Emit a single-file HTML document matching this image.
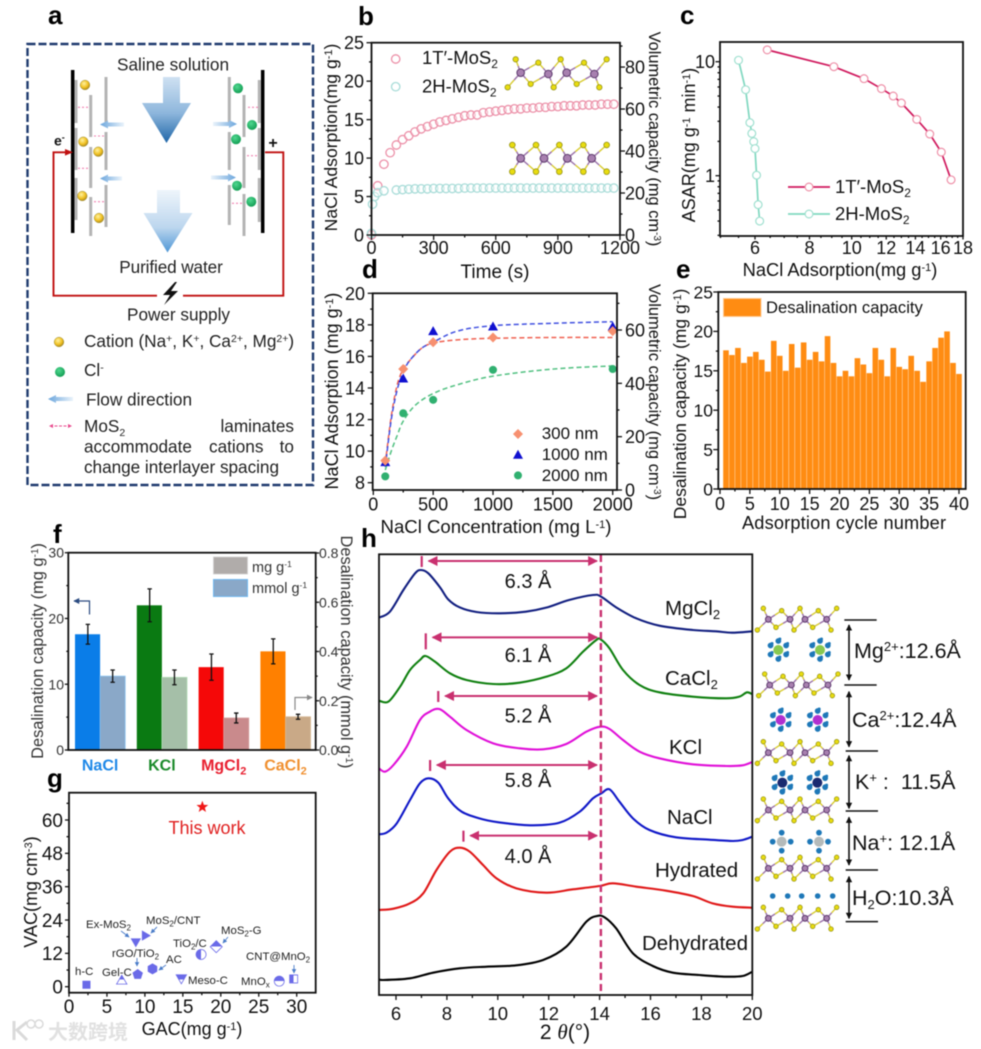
<!DOCTYPE html>
<html lang="en"><head><meta charset="utf-8"><title>MoS2 desalination figure</title>
<style>
html,body{margin:0;padding:0;background:#fff}
svg{display:block;filter:blur(.55px);font-family:"Liberation Sans","Noto Sans CJK SC",sans-serif;fill:#111}
</style></head><body>
<svg id="fig" xmlns="http://www.w3.org/2000/svg" width="981" height="1049" viewBox="0 0 981 1049">
<defs>
<linearGradient id="bigA" x1="0" y1="0" x2="0" y2="1"><stop offset="0" stop-color="#cfe1f2"/><stop offset=".55" stop-color="#8db6dc"/><stop offset="1" stop-color="#1f66a8"/></linearGradient>
<linearGradient id="bigB" x1="0" y1="0" x2="0" y2="1"><stop offset="0" stop-color="#eef5fb"/><stop offset=".6" stop-color="#bcd6ee"/><stop offset="1" stop-color="#4f97d6"/></linearGradient>
<linearGradient id="flowL" x1="0" y1="0" x2="1" y2="0"><stop offset="0" stop-color="#6aa5dc"/><stop offset="1" stop-color="#eaf3fb"/></linearGradient>
<linearGradient id="flowR" x1="0" y1="0" x2="1" y2="0"><stop offset="0" stop-color="#eaf3fb"/><stop offset="1" stop-color="#6aa5dc"/></linearGradient>
<radialGradient id="cat" cx=".4" cy=".35" r=".7"><stop offset="0" stop-color="#fff2a0"/><stop offset=".6" stop-color="#f0c020"/><stop offset="1" stop-color="#a08020"/></radialGradient>
<radialGradient id="ani" cx=".4" cy=".35" r=".7"><stop offset="0" stop-color="#50d890"/><stop offset="1" stop-color="#0f9a50"/></radialGradient>
<linearGradient id="halfTop" x1="0" y1="0" x2="0" y2="1"><stop offset=".5" stop-color="#6a6ae8"/><stop offset=".5" stop-color="#fff"/></linearGradient>
<linearGradient id="halfLeft" x1="0" y1="0" x2="1" y2="0"><stop offset=".5" stop-color="#6a6ae8"/><stop offset=".5" stop-color="#fff"/></linearGradient>
<marker id="mPink" viewBox="0 0 8 8" refX="7" refY="4" markerWidth="5" markerHeight="5" orient="auto-start-reverse"><path d="M0 0L8 4L0 8Z" fill="#c9306f"/></marker>
<marker id="mBlue" viewBox="0 0 8 8" refX="7" refY="4" markerWidth="5" markerHeight="5" orient="auto"><path d="M0 0L8 4L0 8Z" fill="#4a7cc8"/></marker>
<marker id="mNavy" viewBox="0 0 8 8" refX="7" refY="4" markerWidth="5" markerHeight="5" orient="auto"><path d="M0 0L8 4L0 8Z" fill="#2a4a80"/></marker>
<marker id="mGrey" viewBox="0 0 8 8" refX="7" refY="4" markerWidth="5" markerHeight="5" orient="auto"><path d="M0 0L8 4L0 8Z" fill="#888"/></marker>
<marker id="mBlack" viewBox="0 0 8 8" refX="7" refY="4" markerWidth="4" markerHeight="4" orient="auto-start-reverse"><path d="M0 0L8 4L0 8Z" fill="#111"/></marker>
</defs>
<rect width="981" height="1049" fill="#fff"/>

<g font-weight="bold" font-size="26" fill="#000">
<text x="48" y="24">a</text>
<text x="358" y="25">b</text>
<text x="680" y="24">c</text>
<text x="362" y="278">d</text>
<text x="676" y="278">e</text>
<text x="53" y="543">f</text>
<text x="47" y="787">g</text>
<text x="361" y="547">h</text>
</g>

<g id="panel-a">
<rect x="27.5" y="44" width="285.5" height="441" fill="none" stroke="#1f3a6e" stroke-width="2.4" stroke-dasharray="8 3"/>
<path d="M163 77H180V103H191L166.5 143L142 103H163Z" fill="url(#bigA)"/>
<path d="M157 190H180V213H192.500L167.500 252.500L143.500 213H157Z" fill="url(#bigB)"/>
<g stroke="#b4b4b4" stroke-width="3" fill="none">
<path d="M76 80V123M76 128V170M76 178V220M90.700 95V137M90.700 147V188M90.700 197V236M106 77V122M106 132V170M106 185V227"/>
<path d="M229.300 77V122M229.300 132V170M229.300 185V225M244 95V137M244 147V188M244 194V236M259.300 80V123M259.300 128V170M259.300 178V222"/>
</g>
<path d="M72.700 70V233" stroke="#000" stroke-width="3.500"/>
<path d="M262.700 70V233" stroke="#000" stroke-width="3.500"/>
<path d="M71 152.300H53.500V295.700H157" fill="none" stroke="#c01010" stroke-width="1.900"/>
<path d="M265 152.300H283.300V295.700H183" fill="none" stroke="#c01010" stroke-width="1.900"/>
<path d="M73 152.300L65 149V155.600Z" fill="#c01010"/>
<path d="M175 282L163 295H170L164 305L178 291H171L177 282Z" fill="#111"/>
<g stroke="#9a8a30" stroke-width=".5" fill="url(#cat)">
<circle cx="85" cy="85" r="4.800"/><circle cx="83.300" cy="141.700" r="4.800"/><circle cx="98.300" cy="151.700" r="4.800"/><circle cx="82.300" cy="196" r="4.800"/><circle cx="99" cy="218" r="4.800"/>
<circle cx="59" cy="342" r="4.800"/>
</g>
<g fill="url(#ani)">
<circle cx="238" cy="88.300" r="5"/><circle cx="252" cy="125" r="5"/><circle cx="236" cy="139.300" r="5"/><circle cx="237" cy="185.700" r="5"/><circle cx="251.300" cy="201.700" r="5"/>
<circle cx="60" cy="372" r="5"/>
</g>
<g stroke="#f080b0" stroke-width="1.100" stroke-dasharray="2 2">
<path d="M78 107.300H89M94 136H104M78 168.300H89M94 201.700H104M248 107.300H258M247 155.700H257M232 203.300H242"/>
</g>
<g>
<path d="M124 122.500H108V120.500L100 124.500L108 128.500V126.500H124Z" fill="url(#flowL)"/>
<path d="M122 176.500H108V174.500L100 178.500L108 182.500V180.500H122Z" fill="url(#flowL)"/>
<path d="M213 122H229V120L237 124L229 128V126H213Z" fill="url(#flowR)"/>
<path d="M211 175.500H228V173.500L236 177.500L228 181.500V179.500H211Z" fill="url(#flowR)"/>
<path d="M73 397H56V395L48 399L56 403V401H73Z" fill="url(#flowL)"/>
</g>
<path d="M50 426H71" stroke="#e8488c" stroke-width="1.100" stroke-dasharray="3 1.500"/>
<path d="M49 426L53 424V428ZM72 426L68 424V428Z" fill="#e8488c"/>
<g font-size="17.200" fill="#222">
<text x="117" y="70.500" textLength="112">Saline solution</text>
<text x="119.300" y="273" textLength="103.500">Purified water</text>
<text x="127" y="320.500" textLength="103">Power supply</text>
<text x="84" y="347">Cation (Na<tspan font-size="10.500" dy="-5">+</tspan><tspan dy="5">, K</tspan><tspan font-size="10.500" dy="-5">+</tspan><tspan dy="5">, Ca</tspan><tspan font-size="10.500" dy="-5">2+</tspan><tspan dy="5">, Mg</tspan><tspan font-size="10.500" dy="-5">2+</tspan><tspan dy="5">)</tspan></text>
<text x="84" y="376">Cl<tspan font-size="10.500" dy="-5">-</tspan></text>
<text x="86" y="405.500" textLength="106">Flow direction</text>
<text x="84" y="432">MoS<tspan font-size="10.500" dy="4">2</tspan></text>
<text x="294" y="432" text-anchor="end">laminates</text>
<text x="84" y="452.500">accommodate</text>
<text x="209" y="452.500">cations</text>
<text x="294" y="452.500" text-anchor="end">to</text>
<text x="84" y="473" textLength="195">change interlayer spacing</text>
</g>
<text x="54" y="145.500" font-size="14" font-weight="bold" fill="#111">e<tspan font-size="9" dy="-5">-</tspan></text>
<text x="273" y="148" font-size="16" font-weight="bold" text-anchor="middle" fill="#111">+</text>
</g>

<g id="panel-b">
<text transform="translate(337,137.500) rotate(-90)" text-anchor="middle" font-size="17.600">NaCl Adsorption(mg g<tspan font-size="11" dy="-5">-1</tspan><tspan dy="5">)</tspan></text>
<text transform="translate(649,139) rotate(90)" text-anchor="middle" font-size="16.400">Volumetric capacity (mg cm<tspan font-size="10" dy="-5">-3</tspan><tspan dy="5">)</tspan></text>
<text x="495" y="278" text-anchor="middle" font-size="19">Time (s)</text>
<text x="422" y="64" font-size="18.500">1T′-MoS<tspan font-size="12" dy="4">2</tspan></text>
<text x="422" y="92.500" font-size="18.500">2H-MoS<tspan font-size="12" dy="4">2</tspan></text>
</g>
<g id="panel-c">
<text transform="translate(695,145) rotate(-90)" text-anchor="middle" font-size="18">ASAR(mg g<tspan font-size="11" dy="-5">-1</tspan><tspan dy="5"> min</tspan><tspan font-size="11" dy="-5">-1</tspan><tspan dy="5">)</tspan></text>
<text x="840" y="276" text-anchor="middle" font-size="18.300">NaCl Adsorption(mg g<tspan font-size="11" dy="-5">-1</tspan><tspan dy="5">)</tspan></text>
</g>
<g id="panel-d">
<text transform="translate(338,391) rotate(-90)" text-anchor="middle" font-size="18">NaCl Adsorption (mg g<tspan font-size="11" dy="-5">-1</tspan><tspan dy="5">)</tspan></text>
<text transform="translate(649,392) rotate(90)" text-anchor="middle" font-size="16.500">Volumetric capacity (mg cm<tspan font-size="10" dy="-5">-3</tspan><tspan dy="5">)</tspan></text>
<text x="496" y="533" text-anchor="middle" font-size="18.600">NaCl Concentration (mg L<tspan font-size="11" dy="-5">-1</tspan><tspan dy="5">)</tspan></text>
</g>
<g id="panel-e">
<text transform="translate(686,404) rotate(-90)" text-anchor="middle" font-size="17.500">Desalination capacity (mg g<tspan font-size="11" dy="-5">-1</tspan><tspan dy="5">)</tspan></text>
<text x="844" y="529" text-anchor="middle" font-size="18.200" textLength="204">Adsorption cycle number</text>
</g>
<g id="panel-f">
<text transform="translate(43,651) rotate(-90)" text-anchor="middle" font-size="16.400" fill="#333">Desalination capacity (mg g<tspan font-size="10" dy="-5">-1</tspan><tspan dy="5">)</tspan></text>
<text transform="translate(341,652) rotate(90)" text-anchor="middle" font-size="16.400" fill="#333">Desalination capacity (mmol g<tspan font-size="10" dy="-5">-1</tspan><tspan dy="5">)</tspan></text>
<path d="M89.500 614.500V601H74" fill="none" stroke="#2a4a80" stroke-width="1.200" marker-end="url(#mNavy)"/>
<path d="M295 710V697.500H312" fill="none" stroke="#888" stroke-width="1.200" marker-end="url(#mGrey)"/>
<text x="252" y="572" font-size="14.500" fill="#333">mg g<tspan font-size="8.500" dy="-5">-1</tspan></text>
<text x="252" y="593" font-size="14.500" fill="#333">mmol g<tspan font-size="8.500" dy="-5">-1</tspan></text>
</g>
<g id="panel-g">
<text transform="translate(37,892) rotate(-90)" text-anchor="middle" font-size="18">VAC(mg cm<tspan font-size="11" dy="-5">-3</tspan><tspan dy="5">)</tspan></text>
<text x="192" y="1035" text-anchor="middle" font-size="18">GAC(mg g<tspan font-size="11" dy="-5">-1</tspan><tspan dy="5">)</tspan></text>
<text x="207" y="834" text-anchor="middle" font-size="18" fill="#e02020">This work</text>
<g stroke="#4a7cc8" stroke-width=".9" fill="none">
<path d="M121 931L129 937" marker-end="url(#mBlue)"/><path d="M157 927L151 933" marker-end="url(#mBlue)"/><path d="M137 958V966" marker-end="url(#mBlue)"/><path d="M166 965L159 970" marker-end="url(#mBlue)"/><path d="M228 937L223 943" marker-end="url(#mBlue)"/><path d="M294 965V973" marker-end="url(#mBlue)"/>
</g>
</g>
<g id="panel-h">
<text x="565" y="1039" text-anchor="middle" font-size="21">2 <tspan font-family="Liberation Serif" font-style="italic">θ</tspan>(°)</text>
</g>
<g id="panel-h-structures">
<g font-size="21.500" fill="#111">
<text x="854" y="658">Mg<tspan font-size="13" dy="-7">2+</tspan><tspan dy="7">:12.6Å</tspan></text>
<text x="852" y="727">Ca<tspan font-size="13" dy="-7">2+</tspan><tspan dy="7">:12.4Å</tspan></text>
<text x="855" y="789" xml:space="preserve">K<tspan font-size="13" dy="-7">+</tspan><tspan dy="7"> :  11.5Å</tspan></text>
<text x="852" y="850">Na<tspan font-size="13" dy="-7">+</tspan><tspan dy="7">: 12.1Å</tspan></text>
<text x="852" y="905">H<tspan font-size="13" dy="4">2</tspan><tspan dy="-4">O:10.3Å</tspan></text>
</g>
</g>
<g id="watermark" opacity=".85">
<path d="M14 1021V1040M27 1022L17 1030L27 1040" fill="none" stroke="#d4d4d4" stroke-width="3"/>
<circle cx="31" cy="1024" r="4" fill="none" stroke="#d4d4d4" stroke-width="1.500"/>
<circle cx="39" cy="1024" r="4" fill="none" stroke="#d4d4d4" stroke-width="1.500"/>
<text x="48" y="1039" font-size="20" font-weight="bold" fill="#dcdcdc" font-family="'Liberation Sans','Noto Sans CJK SC',sans-serif">大数跨境</text>
</g>
</svg>
<script>
// ---------- panel b data ----------
const bTime=[0,30,60,90,120,150,180,210,240,270,300,330,360,390,420,450,480,510,540,570,600,630,660,690,720,750,780,810,840,870,900,930,960,990,1020,1050,1080,1110,1140,1170];
const b1T=[0,6.4,9.2,10.7,11.7,12.4,12.9,13.4,13.8,14.1,14.4,14.7,14.9,15.1,15.3,15.5,15.6,15.6,15.9,16.0,16.1,16.2,16.3,16.4,16.4,16.5,16.5,16.6,16.6,16.7,16.7,16.8,16.8,16.8,16.9,16.9,16.9,17.0,17.0,17.0];
const b2HTime=[0,5,15,30,60,120,150,180,210,240,270,300,330,360,390,420,450,480,510,540,570,600,630,660,690,720,750,780,810,840,870,900,930,960,990,1020,1050,1080,1110,1140,1170];
const b2H=[0.2,4,5,5.5,5.75,5.85,5.9,5.95,6,6,6,6.05,6.05,6.05,6.05,6.05,6.1,6.1,6.1,6.1,6.1,6.1,6.1,6.1,6.1,6.1,6.1,6.1,6.1,6.1,6.1,6.1,6.1,6.1,6.1,6.1,6.1,6.1,6.1,6.1,6.1];
const bXTicks=[0,300,600,900,1200], bXMinor=[150,450,750,1050];
const bYTicks=[0,5,10,15,20,25], bYMinor=[2.5,7.5,12.5,17.5,22.5];
const bY2Ticks=[0,20,40,60,80], bY2Minor=[10,30,50,70,90];
// ---------- panel c data ----------
const c1TX=[6.4,9.1,10.67,11.7,12.45,13.0,14.1,15.1,16.05,16.9];
const c1TY=[12.7,9.04,7.1,5.8,5.0,4.34,3.12,2.32,1.61,0.92];
const c2HX=[5.5,5.71,5.84,5.9,5.96,6.0,6.05,6.1,6.15];
const c2HY=[10.3,5.68,2.92,2.35,1.99,1.73,1.01,0.557,0.40];
const cXTicks=[6,8,10,12,14,16,18];
const cXMinor=[5,5.5,6.5,7,7.5,8.5,9,9.5,10.5,11,11.5,12.5,13,13.5,14.5,15,15.5,16.5,17,17.5];
const cYTicks=[1,10], cYMinor=[0.3,0.4,0.5,0.6,0.7,0.8,0.9,2,3,4,5,6,7,8,9];
// ---------- panel d data ----------
const dConc=[100,250,500,1000,2000];
const d300=[9.4,15.2,16.9,17.2,17.6];
const d1000=[9.3,14.6,17.6,17.9,17.9];
const d2000=[8.4,12.4,13.25,15.15,15.2];
const dFitConc300=[100,150,200,250,300,400,500,700,1000,1500,2000];
const dFit300=[9.2,12.2,14.2,15.2,15.7,16.5,16.85,17.05,17.15,17.2,17.2];
const dFitConc1000=[100,150,200,250,300,400,500,700,1000,1500,2000];
const dFit1000=[9.0,12,13.9,15,15.7,16.5,16.9,17.6,17.95,18.1,18.2];
const dFitConc2000=[100,150,200,250,350,500,700,1000,1500,2000];
const dFit2000=[8.8,10,11,11.9,12.9,13.65,14.2,14.75,15.2,15.4];
const dXTicks=[0,500,1000,1500,2000], dXMinor=[250,750,1250,1750];
const dYTicks=[8,10,12,14,16,18,20], dYMinor=[9,11,13,15,17,19];
const dY2Ticks=[0,20,40,60], dY2Minor=[10,30,50,70];
const dLegendLabels=['300 nm','1000 nm','2000 nm'];
// ---------- panel e data ----------
const eCapacity=[17.6,17.0,17.9,16.0,16.8,17.4,16.4,14.9,18.8,16.9,15.0,18.4,15.4,18.6,16.4,17.4,16.2,19.4,16,14.3,15.0,14.3,16.6,15.8,14.7,17.9,16.4,14.3,17.9,15.5,15.2,16.9,15.0,13.6,16.2,17.9,19.2,20,16,14.6];
const eXTicks=[0,5,10,15,20,25,30,35,40], eXMinor=[2.5,7.5,12.5,17.5,22.5,27.5,32.5,37.5];
const eYTicks=[0,5,10,15,20,25], eYMinor=[2.5,7.5,12.5,17.5,22.5];
// ---------- panel f data ----------
const fSalts=['NaCl','KCl','MgCl','CaCl'];
const fSubs=['','','2','2'];
const fMg=[17.6,22,12.6,15];
const fMgErr=[1.5,2.5,2,1.9];
const fMmol=[0.30,0.295,0.13,0.135];
const fMmolErr=[0.025,0.03,0.02,0.01];
const fYTicks=[0,10,20,30], fYMinor=[5,15,25];
const fY2Ticks=[0,0.2,0.4,0.6,0.8], fY2Minor=[0.1,0.3,0.5,0.7];
// ---------- panel g data ----------
const gGac=[2.3,6.95,9.05,11,8.8,10,14.8,17.4,19.4,27.7,29.6];
const gVac=[0.7,2,4.4,6.4,16.3,18.4,3.2,11.6,14.4,2,2.8];
const gShapes=['square','triUpHalf','pentagon','hexagon','triDown','triRight','triDownHalf','circleLeft','diamondHalf','circleTop','squareLeft'];
const gStarGac=[17.57], gStarVac=[64.7];
const gXTicks=[0,5,10,15,20,25,30], gXMinor=[2.5,7.5,12.5,17.5,22.5,27.5];
const gYTicks=[0,12,24,36,48,60], gYMinor=[6,18,30,42,54,66];
// ---------- panel h data (intensity in arbitrary units) ----------
const hMgTheta=[5.33,5.76,6.29,6.75,6.98,7.27,7.73,8.05,8.5,9.16,10.08,11.1,11.9,12.8,13.74,14.06,14.65,15.44,16.35,17.66,18.57,19.2,20];
const hMgI=[1132,1150,1215,1265,1275,1265,1223,1187,1163,1149,1145,1150,1162,1185,1200,1195,1163,1130,1108,1095,1091,1087,1091];
const hCaTheta=[5.33,5.7,6.16,6.55,6.94,7.16,7.53,8.12,8.77,9.82,10.86,11.91,12.69,13.35,13.87,14.04,14.39,14.92,15.57,16.35,17.66,18.97,19.49,19.79,20];
const hCaI=[883,880,925,975,1005,1017,1000,965,945,933,937,955,980,1030,1065,1067,1040,975,930,908,895,890,895,908,902];
const hKTheta=[5.33,5.57,5.9,6.42,6.94,7.33,7.7,8.12,8.77,9.82,10.86,11.78,12.69,13.48,14.03,14.39,14.92,15.57,16.35,17.66,18.97,19.62,20];
const hKI=[680,670,690,745,825,850,858,835,795,755,740,737,753,790,805,798,765,730,710,692,687,689,699];
const hNaTheta=[5.33,5.63,6.03,6.55,6.94,7.27,7.66,8.05,8.58,9.42,10.34,11.39,12.43,13.22,13.74,14.07,14.39,14.78,15.31,15.96,17.0,18.31,19.23,19.62,20];
const hNaI=[482,487,515,585,635,650,637,590,550,527,515,509,517,550,590,605,617,580,530,495,473,466,462,465,475];
const hHydTheta=[5.33,5.9,6.55,7.07,7.59,8.12,8.51,8.9,9.42,9.95,10.73,11.91,12.95,14,14.52,15.44,16.61,17.66,18.44,19.23,20];
const hHydI=[255,259,275,305,375,430,442,430,390,350,320,307,317,327,335,325,313,297,275,265,262];
const hDehTheta=[5.33,5.5,6.55,7.46,8.51,9.56,10.73,11.78,12.69,13.48,13.9,14.2,14.65,15.31,16.09,16.88,17.92,18.97,19.62,20];
const hDehI=[48,45,50,67,80,85,89,105,145,220,237,233,200,125,87,67,60,55,57,70];
const hPeakTheta=[7.01,7.17,7.66,7.34,8.65];
const hArrowLevels=[1302,1073,897,690,478];
const hTextLevels=[1221,999,817,624,396];
const hSpacingLabels=['6.3 Å','6.1 Å','5.2 Å','5.8 Å','4.0 Å'];
const hRefTheta=14.05;
const hXTicks=[6,8,10,12,14,16,18,20], hXMinor=[7,9,11,13,15,17,19];

const NS='http://www.w3.org/2000/svg';
function mk(tag,attrs,parent){const e=document.createElementNS(NS,tag);for(const k in attrs)e.setAttribute(k,attrs[k]);parent.appendChild(e);return e;}
const lin=(d0,d1,r0,r1)=>v=>r0+(v-d0)/(d1-d0)*(r1-r0);
const logS=(d0,d1,r0,r1)=>v=>r0+(Math.log10(v)-Math.log10(d0))/(Math.log10(d1)-Math.log10(d0))*(r1-r0);
function smooth(pts){let d='M'+pts[0][0]+' '+pts[0][1];for(let i=0;i<pts.length-1;i++){const p0=pts[i-1]||pts[i],p1=pts[i],p2=pts[i+1],p3=pts[i+2]||p2;
d+='C'+(p1[0]+(p2[0]-p0[0])/6)+' '+(p1[1]+(p2[1]-p0[1])/6)+' '+(p2[0]-(p3[0]-p1[0])/6)+' '+(p2[1]-(p3[1]-p1[1])/6)+' '+p2[0]+' '+p2[1];}return d;}
function frame(p,x0,y0,x1,y1,name){const r=mk('rect',{x:x0,y:y0,width:x1-x0,height:y1-y0,fill:'none',stroke:'#111','stroke-width':1.8},p);


}
function axis(p,o){ // o: side, scale, at, major, minor, fs, fmt, labelAt, fill, name
 const s=o.side,g=mk('g',{},p);
 
 
 const tick=(v,len)=>{const c=o.scale(v);let a;
  if(s==='bottom')a={x1:c,x2:c,y1:o.at,y2:o.at+len};
  else if(s==='left')a={x1:o.at,x2:o.at-len,y1:c,y2:c};
  else a={x1:o.at,x2:o.at+len,y1:c,y2:c};
  a.stroke='#111';a['stroke-width']=1.3;
  const t=mk('line',a,g);
  
  
 };
 (o.minor||[]).forEach(v=>tick(v,o.minorLen||2.5));
 o.major.forEach(v=>{tick(v,o.majorLen||5);
  const c=o.scale(v),str=o.fmt?o.fmt(v):String(v);let a={'font-size':o.fs,fill:o.fill||'#111'};
  if(s==='bottom'){a.x=c;a.y=o.labelAt;a['text-anchor']='middle';}
  else if(s==='left'){a.x=o.labelAt;a.y=c+o.fs*.36;a['text-anchor']='end';}
  else{a.x=o.labelAt;a.y=c+o.fs*.36;}
  const l=mk('text',a,g);l.textContent=str;
  
  
 });
}
function molecule(p,top,bot,mo,rS,rMo,name){
 const g=mk('g',{},p);
 
 
 mo.forEach((m,i)=>{[top[i],top[i+1],bot[i],bot[i+1]].forEach(s=>{
  const mid=[(m[0]+s[0])/2,(m[1]+s[1])/2];
  mk('line',{x1:s[0],y1:s[1],x2:mid[0],y2:mid[1],stroke:'#d8cc30','stroke-width':1.4},g);
  mk('line',{x1:m[0],y1:m[1],x2:mid[0],y2:mid[1],stroke:'#9a70a8','stroke-width':1.4},g);
 });});
 top.concat(bot).forEach(s=>mk('circle',{cx:s[0],cy:s[1],r:rS,fill:'#e8dc10',stroke:'#8c8a10','stroke-width':.7},g));
 mo.forEach(m=>mk('circle',{cx:m[0],cy:m[1],r:rMo,fill:'#a880b0',stroke:'#5c3a6c','stroke-width':1},g));
}
// ---- panel b
(function(){const p=document.getElementById('panel-b');
 const x=lin(0,1200,371.5,620),y=lin(0,25,235,42.7),y2=lin(0,91.6,235,42.7);
 bTime.forEach((t,i)=>{const c=mk('circle',{cx:x(t),cy:y(b1T[i]),r:4.2,fill:'rgba(255,255,255,.4)',stroke:'#ec90a8','stroke-width':1.3},p);
  
  
 });
 b2HTime.forEach((t,i)=>{const c=mk('circle',{cx:x(t),cy:y(b2H[i]),r:4.2,fill:'rgba(255,255,255,.4)',stroke:'#a8dcd8','stroke-width':1.3},p);
  
  
 });
 frame(p,371.5,42.7,620,235,'b-plot-frame');
 axis(p,{side:'bottom',scale:x,at:235,major:bXTicks,minor:bXMinor,fs:18,labelAt:254,name:'b-x-axis'});
 axis(p,{side:'left',scale:y,at:371.5,major:bYTicks,minor:bYMinor,fs:18,labelAt:364,name:'b-y-axis'});
 axis(p,{side:'right',scale:y2,at:620,major:bY2Ticks,minor:bY2Minor,fs:18,labelAt:625,name:'b-y2-axis'});
 const l1=mk('circle',{cx:395.7,cy:59,r:4.2,fill:'none',stroke:'#ec90a8','stroke-width':1.3},p);
 
 
 const l2=mk('circle',{cx:395.7,cy:86.7,r:4.2,fill:'none',stroke:'#a8dcd8','stroke-width':1.3},p);
 
 
 const z=a=>a.map(q=>[330+q[0]/3,q[1]/3]);
 molecule(p,z([[557,178],[625,188],[692,178],[762,188],[830,178]]),z([[533,262],[602,252],[671,262],[740,252],[808,262]]),z([[572,218],[655,222],[710,218],[793,222]]),2.7,3.8,'b-1t-structure');
 molecule(p,z([[547,435],[618,435],[688,435],[760,435],[830,435]]),z([[547,515],[618,515],[688,515],[760,515],[830,515]]),z([[572,475],[642,475],[712,475],[785,475]]),2.9,3.9,'b-2h-structure');
})();
// ---- panel c
(function(){const p=document.getElementById('panel-c');
 const x=logS(6,18,755,963),y=logS(1,10,175.7,61.7);
 const draw=(xs,ys,line,stroke,name)=>{
  const pl=mk('polyline',{points:xs.map((v,i)=>x(v)+','+y(ys[i])).join(' '),fill:'none',stroke:line,'stroke-width':1.7},p);
  
  
  xs.forEach((v,i)=>{const c=mk('circle',{cx:x(v),cy:y(ys[i]),r:3.9,fill:'#fff',stroke:stroke,'stroke-width':1.2},p);
   
   
  });
 };
 draw(c1TX,c1TY,'#d01a5e','#ee90a8','series-1t');
 draw(c2HX,c2HY,'#80d8c0','#a0e0d0','series-2h');
 frame(p,720,42,963,236,'c-plot-frame');
 axis(p,{side:'bottom',scale:x,at:236,major:cXTicks,minor:cXMinor,fs:18,labelAt:254,majorLen:3.5,minorLen:2,name:'c-x-axis'});
 axis(p,{side:'left',scale:y,at:720,major:cYTicks,minor:cYMinor,fs:18,labelAt:715,majorLen:4.5,minorLen:2.5,name:'c-y-axis'});
 [['#d01a5e','#ee90a8',187,193,'1T′-MoS','c-legend-1t'],['#80d8c0','#a0e0d0',214,220,'2H-MoS','c-legend-2h']].forEach(r=>{
  const ln=mk('line',{x1:788,x2:830,y1:r[2],y2:r[2],stroke:r[0],'stroke-width':1.7},p);
  
  
  const ci=mk('circle',{cx:809,cy:r[2],r:3.9,fill:'#fff',stroke:r[1],'stroke-width':1.2},p);
  
  
  const t=mk('text',{x:835,y:r[3],'font-size':18.5},p);
  
  
  t.textContent=r[4];
  const s=mk('tspan',{'font-size':12,dy:4},t);s.textContent='2';
 });
})();
// ---- panel d
(function(){const p=document.getElementById('panel-d');
 const x=lin(0,2000,373.3,612.7),y=lin(8,20,482.7,293.3),y2=lin(0,60,490,330);
 [[dFitConc300,dFit300,'#f06050','fit-300nm'],[dFitConc1000,dFit1000,'#4050e0','fit-1000nm'],[dFitConc2000,dFit2000,'#50c080','fit-2000nm']].forEach(r=>{
  const l=mk('path',{d:smooth(r[0].map((v,i)=>[x(v),y(r[1][i])])),fill:'none',stroke:r[2],'stroke-width':1.5,'stroke-dasharray':'5 3'},p);
  
  
 });
 const marker=(cx,cy,kind,name)=>{let e;
  if(kind==0)e=mk('path',{d:`M${cx} ${cy-5}L${cx+5} ${cy}L${cx} ${cy+5}L${cx-5} ${cy}Z`,fill:'#f79070'},p);
  else if(kind==1)e=mk('path',{d:`M${cx} ${cy-5}L${cx+5} ${cy+4}L${cx-5} ${cy+4}Z`,fill:'#1010d0'},p);
  else e=mk('circle',{cx:cx,cy:cy,r:4,fill:'#30b070'},p);
  
  
 };
 dConc.forEach((c,i)=>marker(x(c),y(d1000[i]),1,'series-1000nm-point'));
 dConc.forEach((c,i)=>marker(x(c),y(d2000[i]),2,'series-2000nm-point'));
 dConc.forEach((c,i)=>marker(x(c),y(d300[i]),0,'series-300nm-point'));
 frame(p,372.7,293.3,617,490,'d-plot-frame');
 axis(p,{side:'bottom',scale:x,at:490,major:dXTicks,minor:dXMinor,fs:18,labelAt:510.5,name:'d-x-axis'});
 axis(p,{side:'left',scale:y,at:372.7,major:dYTicks,minor:dYMinor,fs:18,labelAt:365,name:'d-y-axis'});
 axis(p,{side:'right',scale:y2,at:617,major:dY2Ticks,minor:dY2Minor,fs:18,labelAt:625,name:'d-y2-axis'});
 dLegendLabels.forEach((s,i)=>{
  marker(518,434+i*20.7,i,'d-legend-marker');
  const t=mk('text',{x:541.7,y:439+i*21,'font-size':17},p);t.textContent=s;
  
  
 });
})();
// ---- panel e
(function(){const p=document.getElementById('panel-e');
 const x=lin(0,40,720,959),y=lin(0,25,489,292);
 eCapacity.forEach((v,i)=>{const b=mk('rect',{x:x(i+1)-2.8,y:y(v),width:5.6,height:y(0)-y(v),fill:'#ff8c12'},p);
  
  
 });
 frame(p,718.3,292,965.7,489,'e-plot-frame');
 axis(p,{side:'bottom',scale:x,at:489,major:eXTicks,minor:eXMinor,fs:18,labelAt:510,name:'e-x-axis'});
 axis(p,{side:'left',scale:y,at:718.3,major:eYTicks,minor:eYMinor,fs:17.5,labelAt:713,name:'e-y-axis'});
 const s=mk('rect',{x:723.5,y:298.5,width:37.5,height:18,fill:'#ff8c12',stroke:'#ffc890','stroke-width':1},p);
 
 
 const t=mk('text',{x:766,y:313,'font-size':16.6},p);t.textContent='Desalination capacity';
 
 
})();
// ---- panel f
(function(){const p=document.getElementById('panel-f');
 const y=lin(0,30,750,552.7),y2=lin(0,0.8,750,553);
 const xs=i=>75+i*61.8,w=25.1;
 const solid=['#0a7de8','#0a7a12','#f50808','#ff8000'];
 const soft=['#8aa8c8','#a5bfa8','#c98a8c','#c9a987'];
 const softEdge=['#8cc4f0','#b0dcb4','#d8a0a0','#d8bc98'];
 const saltCol=['#1e88e8','#1a8a2a','#e82030','#f09030'];
 const err=(cx,top,bot,name)=>{
  const e=mk('path',{d:`M${cx} ${top}V${bot}M${cx-2.2} ${top}H${cx+2.2}M${cx-2.2} ${bot}H${cx+2.2}`,stroke:'#111','stroke-width':1.3,fill:'none'},p);
  
  
 };
 fSalts.forEach((s,i)=>{
  const a=mk('rect',{x:xs(i),y:y(fMg[i]),width:w,height:750-y(fMg[i]),fill:solid[i]},p);
  
  
  const b=mk('rect',{x:xs(i)+w,y:y2(fMmol[i]),width:w,height:750-y2(fMmol[i]),fill:soft[i],stroke:softEdge[i],'stroke-width':.8},p);
  
  
  err(xs(i)+w/2+.3,y(fMg[i]+fMgErr[i]),y(fMg[i]-fMgErr[i]),'mg-error-bar');
  err(xs(i)+w*1.5,y2(fMmol[i]+fMmolErr[i]),y2(fMmol[i]-fMmolErr[i]),'mmol-error-bar');
  const t=mk('text',{x:xs(i)+w,y:770.5,'font-size':16,'font-weight':'bold','text-anchor':'middle',fill:saltCol[i]},p);
  
  
  t.textContent=s;
  if(fSubs[i]){const u=mk('tspan',{'font-size':11,dy:4},t);u.textContent=fSubs[i];}
 });
 frame(p,68.3,552.7,315.7,750,'f-plot-frame');
 axis(p,{side:'left',scale:y,at:68.3,major:fYTicks,minor:fYMinor,fs:14,labelAt:64,majorLen:3.5,minorLen:2,fill:'#333',name:'f-y-axis'});
 axis(p,{side:'right',scale:y2,at:315.7,major:fY2Ticks,minor:fY2Minor,fs:14,labelAt:319,majorLen:3.5,minorLen:2,fill:'#333',fmt:v=>v.toFixed(1),name:'f-y2-axis'});
 const l1=mk('rect',{x:213.5,y:557,width:34,height:17,fill:'#b0acaa',stroke:'#d0d0d0','stroke-width':.8},p);
 
 
 const l2=mk('rect',{x:213.5,y:579.5,width:34,height:17,fill:'#8aa8c8',stroke:'#70b8f0','stroke-width':1},p);
 
 
})();
// ---- panel g
(function(){const p=document.getElementById('panel-g');
 const x=lin(0,30,69,296.7),y=lin(0,60,986.7,820);
 const col='#6a6ae8',poly=(cx,cy,r,n,rot)=>{let d='';for(let i=0;i<n;i++){const a=rot+i*2*Math.PI/n;d+=(i?'L':'M')+(cx+r*Math.sin(a))+' '+(cy-r*Math.cos(a));}return d+'Z';};
 const shapeAttrs=(s,cx,cy)=>{
  const R=5.5;
  switch(s){
   case 'square':return {d:`M${cx-4} ${cy-4}h8v8h-8Z`,fill:col};
   case 'triUpHalf':return {d:poly(cx,cy,R+.5,3,0),fill:'url(#halfTop)',stroke:col};
   case 'pentagon':return {d:poly(cx,cy,R,5,0),fill:col};
   case 'hexagon':return {d:poly(cx,cy,R,6,0),fill:col};
   case 'triDown':return {d:poly(cx,cy,R+.5,3,Math.PI),fill:col};
   case 'triRight':return {d:poly(cx,cy,R+.5,3,Math.PI/2),fill:col};
   case 'triDownHalf':return {d:poly(cx,cy,R+.5,3,Math.PI),fill:'url(#halfTop)',stroke:col};
   case 'circleLeft':return {d:poly(cx,cy,R-.5,24,0),fill:'url(#halfLeft)',stroke:col};
   case 'diamondHalf':return {d:poly(cx,cy,R+.5,4,0),fill:'url(#halfTop)',stroke:col};
   case 'circleTop':return {d:poly(cx,cy,R-.5,24,0),fill:'url(#halfTop)',stroke:col};
   default:return {d:`M${cx-4} ${cy-4}h8v8h-8Z`,fill:'url(#halfLeft)',stroke:col};
  }};
 gGac.forEach((v,i)=>{const a=shapeAttrs(gShapes[i],x(v),y(gVac[i]));a['stroke-width']=.8;
  const m=mk('path',a,p);
  
  
 });
 gStarGac.forEach((v,i)=>{let d='';const cx=x(v),cy=y(gStarVac[i]);for(let k=0;k<10;k++){const r=k%2?2.6:6.2,a=k*Math.PI/5;d+=(k?'L':'M')+(cx+r*Math.sin(a))+' '+(cy-r*Math.cos(a));}
  const st=mk('path',{d:d+'Z',fill:'#f01818'},p);
  
  
 });
 const notes=[[86,928,'Ex-MoS','2','','ex-mos2-label'],[146,924,'MoS','2','/CNT','mos2-cnt-label'],[112,957,'rGO/TiO','2','','rgo-tio2-label'],[173,947,'TiO','2','/C','tio2-c-label'],[221,934,'MoS','2','-G','mos2-g-label'],[166,963,'AC','','','ac-label'],[102,976,'Gel-C','','','gel-c-label'],[75,975,'h-C','','','h-c-label'],[188,984,'Meso-C','','','meso-c-label'],[241,985,'MnO','x','','mnox-label'],[246,960,'CNT@MnO','2','','cnt-mno2-label']];
 notes.forEach(n=>{const t=mk('text',{x:n[0],y:n[1],'font-size':11.4,fill:'#222'},p);
  
  
  t.textContent=n[2];
  if(n[3]){const a=mk('tspan',{'font-size':8,dy:2.5},t);a.textContent=n[3];}
  if(n[4]){const b=mk('tspan',{dy:-2.5},t);b.textContent=n[4];}
 });
 frame(p,69,792.7,315.7,992.7,'g-plot-frame');
 axis(p,{side:'bottom',scale:x,at:992.7,major:gXTicks,minor:gXMinor,fs:19,labelAt:1013,majorLen:4,minorLen:2.5,name:'g-x-axis'});
 axis(p,{side:'left',scale:y,at:69,major:gYTicks,minor:gYMinor,fs:19,labelAt:63,majorLen:4,minorLen:2.5,name:'g-y-axis'});
})();
// ---- panel h
(function(){const p=document.getElementById('panel-h');
 const x=lin(6,20,396,752.3),y=v=>995-v/3;
 const series=[[hMgTheta,hMgI,'#121f80','mgcl2'],[hCaTheta,hCaI,'#108010','cacl2'],[hKTheta,hKI,'#e010d8','kcl'],[hNaTheta,hNaI,'#1018c8','nacl'],[hHydTheta,hHydI,'#e01818','hydrated'],[hDehTheta,hDehI,'#000','dehydrated']];
 series.forEach(s=>{
  const c=mk('path',{d:smooth(s[0].map((t,i)=>[x(t),y(s[1][i])])),fill:'none',stroke:s[2],'stroke-width':2.1},p);
  
  
 });
 const ref=mk('line',{x1:x(hRefTheta),x2:x(hRefTheta),y1:555,y2:995,stroke:'#c9306f','stroke-width':2.4,'stroke-dasharray':'7 4'},p);
 
 
 hPeakTheta.forEach((t,i)=>{
  const yy=y(hArrowLevels[i]);
  const tk=mk('line',{x1:x(t),x2:x(t),y1:yy-(i==1?4:5),y2:yy+(i==1?12:6),stroke:'#c9306f','stroke-width':2.2},p);
  
  
  const ar=mk('line',{x1:x(t)+7,x2:x(hRefTheta)-4,y1:yy,y2:yy,stroke:'#c9306f','stroke-width':2,'marker-start':'url(#mPink)','marker-end':'url(#mPink)'},p);
  
  
  const lb=mk('text',{x:528,y:y(hTextLevels[i]),'font-size':20,'text-anchor':'middle'},p);lb.textContent=hSpacingLabels[i];
  
  
 });
 [[665,615,'MgCl','2','mgcl2-label'],[665,685,'CaCl','2','cacl2-label'],[669,754,'KCl','','kcl-label'],[667,824,'NaCl','','nacl-label'],[655,877,'Hydrated','','hydrated-label'],[642,950,'Dehydrated','','dehydrated-label']].forEach(r=>{
  const t=mk('text',{x:r[0],y:r[1],'font-size':20.5},p);
  
  
  t.textContent=r[2];
  if(r[3]){const a=mk('tspan',{'font-size':13,dy:4},t);a.textContent=r[3];}
 });
 frame(p,379,554.3,752.3,995,'h-plot-frame');
 axis(p,{side:'bottom',scale:x,at:995,major:hXTicks,minor:hXMinor,fs:18.5,labelAt:1020,majorLen:5,minorLen:3,name:'h-x-axis'});
})();
// ---- layered structures
(function(){const p=document.getElementById('panel-h-structures');
 const topO=[[-100,-33],[-45,-26],[10,-33],[65,-26],[120,-33]],botO=[[-118,32],[-62,24],[-8,32],[48,24],[103,32]],moO=[[-85,0],[-20,0],[25,0],[90,0]];
 const zoomed=(zx,zy,o)=>o.map(q=>[750+(zx+q[0])/3,590+(zy+q[1])/3]);
 [[140,88],[144,285],[140,488],[140,660],[140,835],[140,985]].forEach((c,i)=>{
  molecule(p,zoomed(c[0],c[1],topO),zoomed(c[0],c[1],botO),zoomed(c[0],c[1],moO),2.3,2.9,'mos2-layer-'+(i+1));
 });
 const ion=(zx,zy,col,n,name)=>{
  const g=mk('g',{},p);
  
  
  const cx=750+zx/3,cy=590+zy/3;
  for(let k=0;k<n;k++){const a=(n==4?0:Math.PI/6)+k*2*Math.PI/n;
   mk('circle',{cx:cx+9*Math.cos(a),cy:cy+9*Math.sin(a),r:2.9,fill:'#1e78b8'},g);
   if(n==6)mk('circle',{cx:cx+9*Math.cos(a)+1.5,cy:cy+9*Math.sin(a)-2,r:1.5,fill:'#1e78b8'},g);
  }
  mk('circle',{cx:cx,cy:cy,r:5,fill:col},g);
 };
 ion(85,180,'#88c850',6,'mg-ion');ion(210,180,'#88c850',6,'mg-ion');
 ion(92,390,'#b030d0',6,'ca-ion');ion(203,390,'#b030d0',6,'ca-ion');
 ion(97,578,'#1a2a70',6,'k-ion');ion(202,578,'#1a2a70',6,'k-ion');
 ion(95,755,'#b4baba',4,'na-ion');ion(207,755,'#b4baba',4,'na-ion');
 [68,113,155,203,248].forEach(zx=>{
  const w=mk('circle',{cx:750+zx/3,cy:590+918/3,r:2.8,fill:'#1e78b8'},p);
  
  
 });
 [[283,90],[283,285],[287,483],[287,663],[287,840],[287,995]].forEach(r=>{
  const l=mk('line',{x1:750+r[0]/3,x2:750+(r[0]+97)/3,y1:590+r[1]/3,y2:590+r[1]/3,stroke:'#111','stroke-width':1.5},p);
  
  
 });
 [[105,270],[305,470],[497,655],[682,825],[860,985]].forEach(r=>{
  const a=mk('line',{x1:849,x2:849,y1:590+r[0]/3,y2:590+r[1]/3,stroke:'#111','stroke-width':1.6,'marker-start':'url(#mBlack)','marker-end':'url(#mBlack)'},p);
  
  
 });
})();
</script>
</body></html>
